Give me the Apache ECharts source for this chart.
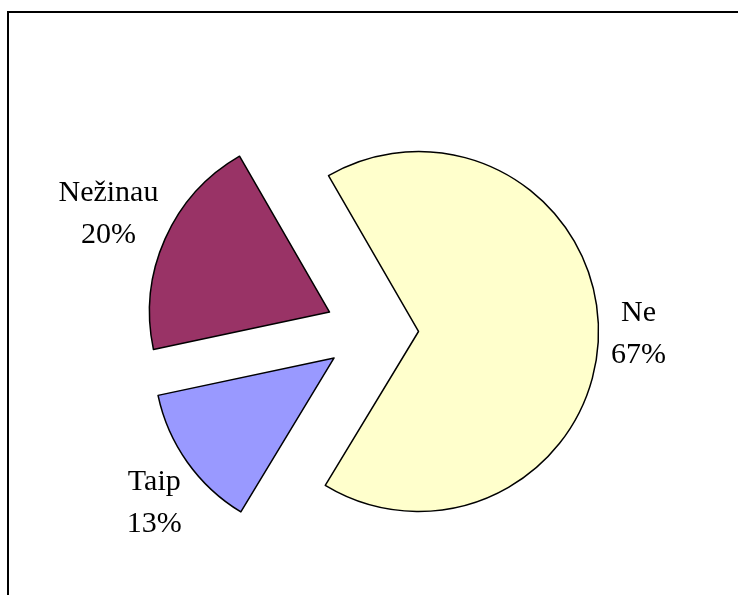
<!DOCTYPE html>
<html>
<head>
<meta charset="utf-8">
<script src="https://cdn.jsdelivr.net/npm/echarts@6/dist/echarts.min.js"></script>
<style>
html,body{margin:0;padding:0;background:#fff;}
#chart{width:738px;height:595px;}
</style>
</head>
<body>
<div id="chart"></div>
<script>
// Data
var categories = ['Ne', 'Taip', 'Nežinau'];
var values = [67, 13, 20];
var colors = ['#FFFFCC', '#9999FF', '#993366'];
// label placement tuning (label styling only)
var labelLen = [35, 70, 62];
var labelDist = [5, -24, 0];

var chart = echarts.init(document.getElementById('chart'), null, {renderer: 'canvas'});

var data = categories.map(function (name, i) {
  return {
    name: name,
    value: values[i],
    selected: true,
    itemStyle: {color: colors[i]},
    labelLine: {show: false, length: labelLen[i], length2: 0},
    label: {distanceToLabelLine: labelDist[i]}
  };
});

chart.setOption({
  animation: false,
  backgroundColor: '#fff',
  graphic: [{
    type: 'rect',
    shape: {x: 8, y: 12, width: 900, height: 800},
    style: {fill: null, stroke: '#000', lineWidth: 2},
    silent: true,
    z: 100
  }],
  series: [{
    type: 'pie',
    center: [372, 331],
    radius: 180,
    startAngle: 120,
    clockwise: true,
    selectedMode: 'multiple',
    selectedOffset: 46.5,
    avoidLabelOverlap: false,
    emphasis: {disabled: true},
    itemStyle: {borderColor: '#000', borderWidth: 1.5},
    select: {itemStyle: {borderColor: '#000', borderWidth: 1.5}},
    label: {
      show: true,
      position: 'outside',
      formatter: '{b}\n{c}%',
      fontFamily: '"Liberation Serif", "Times New Roman", serif',
      fontSize: 30,
      lineHeight: 42,
      color: '#000'
    },
    labelLine: {show: false},
    labelLayout: function () {
      return {align: 'center', verticalAlign: 'middle'};
    },
    data: data
  }]
});
</script>
</body>
</html>
